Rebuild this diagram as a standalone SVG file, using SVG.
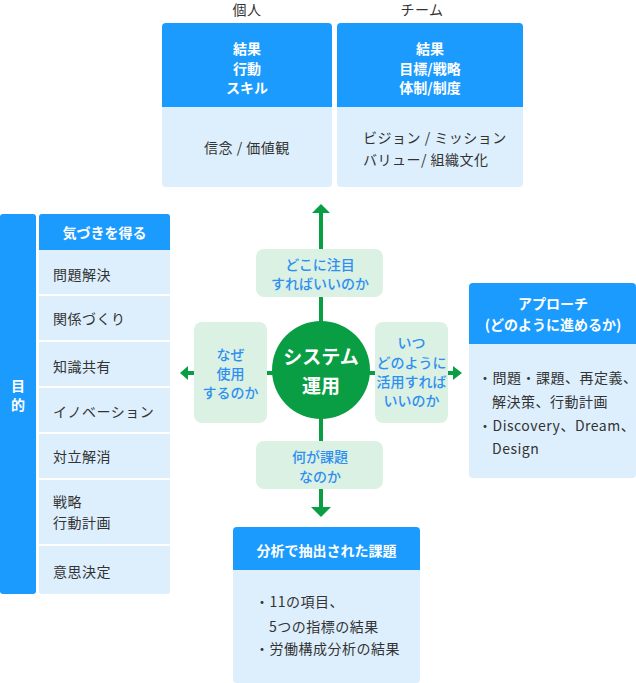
<svg xmlns="http://www.w3.org/2000/svg" width="636" height="683" viewBox="0 0 636 683">
<style>
text{font-family:"Noto Sans CJK JP","Noto Sans",sans-serif;font-size:14px;dominant-baseline:central}
.hd{fill:#1c9bff}
.bd{fill:#ddeffd}
.wt{fill:#fff;font-weight:bold;text-anchor:middle}
.dk{fill:#333;letter-spacing:0.5px}
.c{text-anchor:middle}
.gb{fill:#daf1e3}
.gt{fill:#2f8ff0;font-weight:500;text-anchor:middle}
.ln{stroke:#0a9e44;stroke-width:4;fill:none}
.ah{fill:#0a9e44}
.sep{stroke:#fff;stroke-width:2}
</style>
<g id="connectors">
<line class="ln" x1="321" y1="210" x2="321" y2="509"/>
<line class="ln" x1="186" y1="373" x2="455" y2="373"/>
<polygon class="ah" points="312,213 321,204 330,213"/>
<polygon class="ah" points="311,507 321,517 331,507"/>
<polygon class="ah" points="188,366 180,373 188,380"/>
<polygon class="ah" points="453,366 462,373 453,380"/>
</g>
<g id="label-kojin"><text class="dk c" x="247" y="9">個人</text></g>
<g id="label-team"><text class="dk c" x="422" y="9">チーム</text></g>
<g id="box-kojin">
<rect class="bd" x="162" y="23" width="170" height="164" rx="4"/>
<path class="hd" d="M162 107V27a4 4 0 0 1 4-4h162a4 4 0 0 1 4 4v80z"/>
<text class="wt" x="247" y="48">結果</text>
<text class="wt" x="247" y="68">行動</text>
<text class="wt" x="247" y="87">スキル</text>
<text class="dk c" x="247" y="147">信念 / 価値観</text>
</g>
<g id="box-team">
<rect class="bd" x="337" y="23" width="186" height="164" rx="4"/>
<path class="hd" d="M337 107V27a4 4 0 0 1 4-4h178a4 4 0 0 1 4 4v80z"/>
<text class="wt" x="430" y="48">結果</text>
<text class="wt" x="430" y="68">目標/戦略</text>
<text class="wt" x="430" y="87">体制/制度</text>
<text class="dk" x="363" y="137">ビジョン / ミッション</text>
<text class="dk" x="363" y="159">バリュー/ 組織文化</text>
</g>
<g id="mokuteki">
<rect class="hd" x="0" y="214" width="36" height="380" rx="3"/>
<text class="wt" x="18" y="385">目</text>
<text class="wt" x="18" y="404">的</text>
</g>
<g id="kizuki">
<rect class="bd" x="39" y="214" width="131" height="380" rx="3"/>
<path class="hd" d="M39 250V217a3 3 0 0 1 3-3h125a3 3 0 0 1 3 3v33z"/>
<text class="wt" x="104.5" y="232">気づきを得る</text>
<line class="sep" x1="39" y1="295" x2="170" y2="295"/>
<line class="sep" x1="39" y1="341" x2="170" y2="341"/>
<line class="sep" x1="39" y1="387" x2="170" y2="387"/>
<line class="sep" x1="39" y1="433" x2="170" y2="433"/>
<line class="sep" x1="39" y1="479" x2="170" y2="479"/>
<line class="sep" x1="39" y1="545" x2="170" y2="545"/>
<text class="dk" x="53" y="274">問題解決</text>
<text class="dk" x="53" y="318">関係づくり</text>
<text class="dk" x="53" y="366">知識共有</text>
<text class="dk" x="53" y="411">イノベーション</text>
<text class="dk" x="53" y="456">対立解消</text>
<text class="dk" x="53" y="501">戦略</text>
<text class="dk" x="53" y="522">行動計画</text>
<text class="dk" x="53" y="571">意思決定</text>
</g>
<g id="q-top">
<rect class="gb" x="256" y="249" width="127" height="48" rx="8"/>
<text class="gt" x="320" y="264">どこに注目</text>
<text class="gt" x="320" y="283">すればいいのか</text>
</g>
<g id="q-left">
<rect class="gb" x="194" y="322" width="73" height="101" rx="8"/>
<text class="gt" x="230.5" y="354">なぜ</text>
<text class="gt" x="230.5" y="373">使用</text>
<text class="gt" x="230.5" y="392">するのか</text>
</g>
<g id="q-right">
<rect class="gb" x="375" y="322" width="73" height="101" rx="8"/>
<text class="gt" x="411.5" y="342">いつ</text>
<text class="gt" x="411.5" y="362">どのように</text>
<text class="gt" x="411.5" y="381">活用すれば</text>
<text class="gt" x="411.5" y="400">いいのか</text>
</g>
<g id="q-bottom">
<rect class="gb" x="256" y="441" width="127" height="48" rx="8"/>
<text class="gt" x="320" y="456">何が課題</text>
<text class="gt" x="320" y="476">なのか</text>
</g>
<g id="system">
<circle cx="321" cy="370" r="49" fill="#0a9e44"/>
<text class="wt" x="321" y="355" style="font-size:19px">システム</text>
<text class="wt" x="321" y="384" style="font-size:19px">運用</text>
</g>
<g id="approach">
<rect class="bd" x="469" y="283" width="167" height="195" rx="4"/>
<path class="hd" d="M469 344V287a4 4 0 0 1 4-4h159a4 4 0 0 1 4 4v57z"/>
<text class="wt" x="553" y="303">アプローチ</text>
<text class="wt" x="553" y="324">(どのように進めるか)</text>
<text class="dk" x="478" y="377">・問題・課題、再定義、</text>
<text class="dk" x="492" y="401">解決策、行動計画</text>
<text class="dk" x="478" y="425">・Discovery、Dream、</text>
<text class="dk" x="492" y="448">Design</text>
</g>
<g id="kadai">
<rect class="bd" x="233" y="527" width="187" height="156" rx="4"/>
<path class="hd" d="M233 570V531a4 4 0 0 1 4-4h179a4 4 0 0 1 4 4v39z"/>
<text class="wt" x="326.5" y="550">分析で抽出された課題</text>
<text class="dk" x="255" y="601">・11の項目、</text>
<text class="dk" x="269" y="626">5つの指標の結果</text>
<text class="dk" x="255" y="648">・労働構成分析の結果</text>
</g>
</svg>
